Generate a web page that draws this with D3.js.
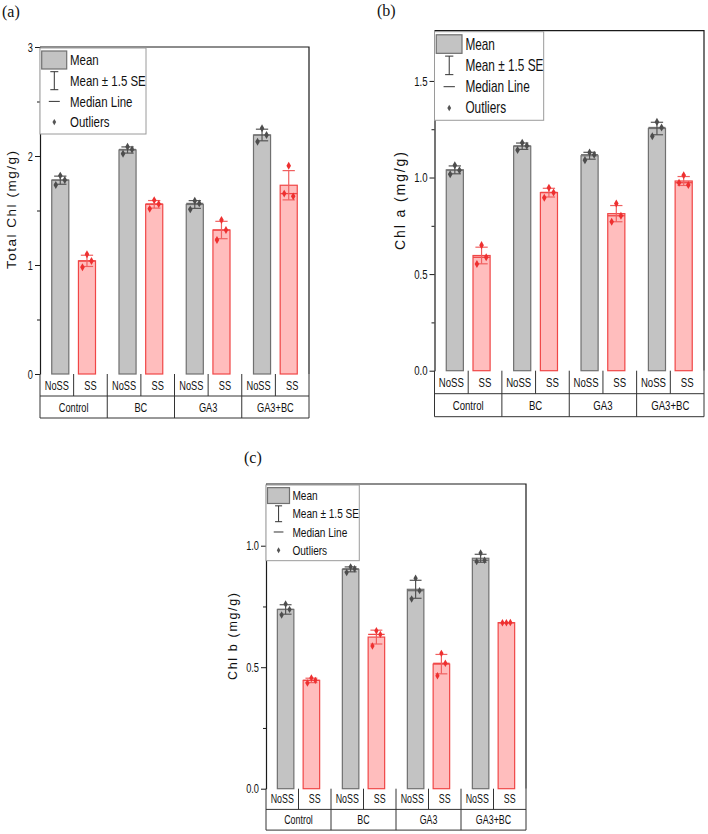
<!DOCTYPE html>
<html><head><meta charset="utf-8">
<script src="https://cdn.jsdelivr.net/npm/d3@7"></script>
<style>body{margin:0;background:#fff}</style>
</head><body><svg id="c" width="708" height="834"></svg>
<script>
// ---------- DATA ----------
const groups = ["Control", "BC", "GA3", "GA3+BC"];
const conditions = ["NoSS", "SS"];
// replicate values (mg/g), one array of 3 replicates per group
const totalChlNoSS = [[1.82, 1.78, 1.734], [2.085, 2.06, 2.02], [1.59, 1.565, 1.51], [2.254, 2.193, 2.131]];
const totalChlSS   = [[1.098, 1.037, 0.979], [1.595, 1.56, 1.515], [1.413, 1.321, 1.229], [1.91, 1.63, 1.655]];
const chlANoSS = [[1.064, 1.038, 1.017], [1.18, 1.164, 1.142], [1.13, 1.118, 1.09], [1.288, 1.259, 1.214]];
const chlASS   = [[0.65, 0.587, 0.552], [0.947, 0.923, 0.895], [0.866, 0.802, 0.771], [1.012, 0.961, 0.973]];
const chlBNoSS = [[0.76, 0.738, 0.715], [0.913, 0.905, 0.89], [0.866, 0.815, 0.781], [0.97, 0.94, 0.935]];
const chlBSS   = [[0.456, 0.446, 0.435], [0.65, 0.635, 0.587], [0.557, 0.516, 0.465], [0.683, 0.684, 0.683]];
const totalChlTicks = [0, 1, 2, 3];
const chlATicks = [0, 0.5, 1.0, 1.5];
const chlBTicks = [0, 0.5, 1.0];
const legendLabels = ["Mean", "Mean \u00b1 1.5 SE", "Median Line", "Outliers"];
const panelLabels = ["(a)", "(b)", "(c)"];
const yTitles = ["Total Chl (mg/g)", "Chl a (mg/g)", "Chl b (mg/g)"];

// ---------- LAYOUT / STYLE ----------
const SANS = '"Liberation Sans",Arial,sans-serif';
const SERIF = '"Liberation Serif","Times New Roman",serif';
const NX = 0.74; // horizontal condensing of the narrow labels
const col = {
  NoSS: {fill: "#c3c3c3", stroke: "#707070", pt: "#4d4d4d", err: "#555555"},
  SS:   {fill: "#ffbdbd", stroke: "#f04646", pt: "#ee3030", err: "#f06060"}
};

const panels = [
  {lab: panelLabels[0], labX: 2, labY: 17, title: yTitles[0], titleX: 16, titleY: 210, titleLen: 118, titleFs: 13.5,
   noss: totalChlNoSS, ss: totalChlSS, ymax: 3, ticks: totalChlTicks, minor: [0.5, 1.5, 2.5], fmt: d3.format("d"),
   left: 40, right: 309, top: 47, bottom: 374, rowH: 22, tickFs: 12.5, catFs: 12.5, leg: 1.0},
  {lab: panelLabels[1], labX: 377, labY: 16, title: yTitles[1], titleX: 405, titleY: 201, titleLen: 98, titleFs: 14,
   noss: chlANoSS, ss: chlASS, ymax: 1.76, ticks: chlATicks, minor: [0.25, 0.75, 1.25], fmt: d3.format(".1f"),
   left: 434.5, right: 704, top: 30.7, bottom: 370.7, rowH: 23, tickFs: 13, catFs: 13, leg: 1.03},
  {lab: panelLabels[2], labX: 244, labY: 463, title: yTitles[2], titleX: 236.5, titleY: 636.5, titleLen: 87, titleFs: 12.5,
   noss: chlBNoSS, ss: chlBSS, ymax: 1.254, ticks: chlBTicks, minor: [0.25, 0.75], fmt: d3.format(".1f"),
   left: 266, right: 526, top: 484, bottom: 788.7, rowH: 20.7, tickFs: 12.5, catFs: 12, leg: 0.88}
];

const svg = d3.select("#c");
const jitter = [0, 4.5, -4.5];

function ntext(sel, x, y, str, fs, anchor) {
  return sel.append("text").attr("transform", `translate(${x},${y}) scale(${NX},1)`)
    .attr("text-anchor", anchor || "start").attr("font-family", SANS).attr("font-size", fs)
    .attr("fill", "#111").text(str);
}

function stats(v) {
  const m = d3.mean(v), sd = d3.deviation(v) || 0;
  const se = sd / Math.sqrt(v.length);
  return {mean: m, lo: m - 1.5 * se, hi: m + 1.5 * se, med: d3.median(v)};
}

panels.forEach(p => {
  const g = svg.append("g");
  const y = d3.scaleLinear().domain([0, p.ymax]).range([p.bottom, p.top]);
  const x0 = d3.scaleBand().domain(groups).range([p.left, p.right]).padding(0);
  const x1 = d3.scaleBand().domain(conditions).range([0, x0.bandwidth()]).paddingInner(0.36).paddingOuter(0.44);
  const sub = d3.scaleBand().domain(conditions).range([0, x0.bandwidth()]).padding(0);
  const bw = x1.bandwidth();
  const cap = bw * 0.36;

  const bars = [];
  groups.forEach((gr, gi) => {
    bars.push({g: gr, c: "NoSS", v: p.noss[gi], ...stats(p.noss[gi])});
    bars.push({g: gr, c: "SS", v: p.ss[gi], ...stats(p.ss[gi])});
  });

  // panel label
  g.append("text").attr("x", p.labX).attr("y", p.labY).text(p.lab)
    .attr("font-family", SERIF).attr("font-size", 16).attr("fill", "#111");

  // bars
  const bg = g.selectAll("g.bar").data(bars).join("g").attr("class", "bar")
    .attr("transform", d => `translate(${x0(d.g) + x1(d.c)},0)`);
  bg.append("rect").attr("x", 0).attr("width", bw)
    .attr("y", d => y(d.mean)).attr("height", d => y(0) - y(d.mean))
    .attr("fill", d => col[d.c].fill).attr("stroke", d => col[d.c].stroke).attr("stroke-width", 1.2);
  bg.append("line").attr("x1", 0).attr("x2", bw).attr("y1", d => y(d.med)).attr("y2", d => y(d.med))
    .attr("stroke", d => col[d.c].stroke).attr("stroke-width", 1.3);
  bg.append("line").attr("x1", bw / 2).attr("x2", bw / 2).attr("y1", d => y(d.lo)).attr("y2", d => y(d.hi))
    .attr("stroke", d => col[d.c].err).attr("stroke-width", 1.2);
  ["lo", "hi"].forEach(k => {
    bg.append("line").attr("x1", bw / 2 - cap).attr("x2", bw / 2 + cap)
      .attr("y1", d => y(d[k])).attr("y2", d => y(d[k]))
      .attr("stroke", d => col[d.c].err).attr("stroke-width", 1.2);
  });
  const sym = d3.symbol().type(d3.symbolDiamond).size(18 * p.leg);
  bg.each(function (d) {
    d3.select(this).selectAll("path.pt").data(d.v).join("path").attr("class", "pt")
      .attr("d", sym)
      .attr("transform", (v, i) => `translate(${bw / 2 + jitter[i] * p.leg},${y(v)})`)
      .attr("fill", col[d.c].pt);
  });

  // frame (top, right)
  g.append("path").attr("d", `M${p.left},${p.top}H${p.right}V${p.bottom}`)
    .attr("fill", "none").attr("stroke", "#1a1a1a").attr("stroke-width", 1.2);

  // y axis
  const ax = g.append("g").attr("transform", `translate(${p.left},0)`)
    .call(d3.axisLeft(y).tickValues(p.ticks).tickFormat("").tickSize(5).tickSizeOuter(0));
  ax.select(".domain").attr("stroke", "#1a1a1a").attr("stroke-width", 1.2);
  ax.selectAll(".tick line").attr("stroke", "#1a1a1a");
  p.ticks.forEach(tv => ntext(g, p.left - 7, y(tv) + p.tickFs * 0.36, p.fmt(tv), p.tickFs, "end"));
  const mn = g.append("g").attr("transform", `translate(${p.left},0)`)
    .call(d3.axisLeft(y).tickValues(p.minor).tickFormat("").tickSize(3).tickSizeOuter(0));
  mn.select(".domain").remove();
  mn.selectAll(".tick line").attr("stroke", "#1a1a1a");

  // category table
  const t = g.append("g").attr("stroke", "#333").attr("stroke-width", 1).attr("fill", "none");
  const r1 = p.bottom, r2 = p.bottom + p.rowH, r3 = p.bottom + 2 * p.rowH;
  t.append("line").attr("x1", p.left).attr("x2", p.right).attr("y1", r2).attr("y2", r2);
  t.append("line").attr("x1", p.left).attr("x2", p.right).attr("y1", r3).attr("y2", r3);
  t.append("line").attr("x1", p.left).attr("x2", p.left).attr("y1", r1).attr("y2", r3);
  groups.forEach(gr => {
    t.append("line").attr("x1", x0(gr) + x0.bandwidth()).attr("x2", x0(gr) + x0.bandwidth()).attr("y1", r1).attr("y2", r3);
    t.append("line").attr("x1", x0(gr) + sub("SS")).attr("x2", x0(gr) + sub("SS")).attr("y1", r1).attr("y2", r2);
    conditions.forEach(c => {
      ntext(g, x0(gr) + sub(c) + sub.bandwidth() / 2, (r1 + r2) / 2 + p.catFs * 0.36, c, p.catFs, "middle");
    });
    ntext(g, x0(gr) + x0.bandwidth() / 2, (r2 + r3) / 2 + p.catFs * 0.36, gr, p.catFs, "middle");
  });

  // y title
  g.append("text").attr("transform", `translate(${p.titleX},${p.titleY}) rotate(-90)`)
    .attr("text-anchor", "middle").attr("font-family", SANS).attr("font-size", p.titleFs)
    .attr("textLength", p.titleLen).attr("lengthAdjust", "spacing").attr("fill", "#111").text(p.title);

  // legend
  const s = p.leg;
  const L = g.append("g").attr("transform", `translate(${p.left},${p.top + 1})`);
  L.append("rect").attr("x", 0).attr("y", 0).attr("width", 106 * s).attr("height", 86 * s)
    .attr("fill", "#fff").attr("stroke", "#9a9a9a").attr("stroke-width", 1);
  const rowH = 20.7 * s, y0 = 12 * s, ix = 14.3 * s;
  L.append("rect").attr("x", 1.7 * s).attr("y", y0 - 9 * s).attr("width", 25 * s).attr("height", 18 * s)
    .attr("fill", "#c3c3c3").attr("stroke", "#707070").attr("stroke-width", 1.2);
  const ey = y0 + rowH;
  L.append("line").attr("x1", ix).attr("x2", ix).attr("y1", ey - 9 * s).attr("y2", ey + 9 * s).attr("stroke", "#333");
  L.append("line").attr("x1", ix - 4 * s).attr("x2", ix + 4 * s).attr("y1", ey - 9 * s).attr("y2", ey - 9 * s).attr("stroke", "#333");
  L.append("line").attr("x1", ix - 4 * s).attr("x2", ix + 4 * s).attr("y1", ey + 9 * s).attr("y2", ey + 9 * s).attr("stroke", "#333");
  const my = y0 + 2 * rowH;
  L.append("line").attr("x1", ix - 5.5 * s).attr("x2", ix + 5.5 * s).attr("y1", my).attr("y2", my).attr("stroke", "#333");
  L.append("path").attr("d", d3.symbol().type(d3.symbolDiamond).size(12 * s)())
    .attr("transform", `translate(${ix},${y0 + 3 * rowH})`).attr("fill", "#555");
  legendLabels.forEach((lb, i) => {
    ntext(L, 30 * s, y0 + i * rowH + 5.3 * s, lb, 15.5 * s);
  });
});
</script></body></html>
